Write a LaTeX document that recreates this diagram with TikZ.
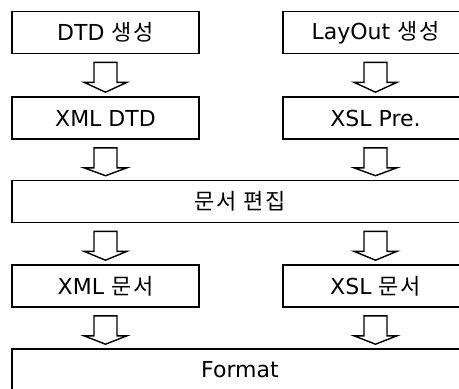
\documentclass[tikz,border=0pt]{standalone}
\usepackage{fontspec}
\setmainfont{DejaVu Sans}
\newfontfamily\kr[LetterSpace=8]{Noto Sans CJK KR}
\usetikzlibrary{calc}
\tikzset{
  box/.style={draw, line width=1.6pt, rectangle, inner sep=0pt, font=\fontsize{22}{25}\selectfont},
  lbox/.style={box, minimum width=187pt, minimum height=42pt},
  rbox/.style={box, minimum width=185pt, minimum height=42pt},
  wbox/.style={box, minimum width=456pt, minimum height=42pt},
  blockarrow/.style={draw, line width=1.4pt, fill=white, line join=miter},
}
\newcommand\barrow[3]{%
  \path (#1.center |- #2.south) coordinate (bA) (#1.center |- #3.north) coordinate (bB);
  \draw[blockarrow] ($(bA)+(-11.5,8)$) -- ($(bA)+(11.5,8)$) -- ($(bA)+(11.5,28)$)
    -- ($(bA)+(21.5,28)$) -- ($(bB)+(0,-4)$) -- ($(bA)+(-21.5,28)$)
    -- ($(bA)+(-11.5,28)$) -- cycle;
}
\begin{document}
\begin{tikzpicture}[x=1pt,y=-1pt]
\useasboundingbox (0,0) rectangle (459,389);
\clip (0,0) rectangle (459,389);
\node[lbox] (dtd) at (105.5,32.5) {DTD {\kr 생성}};
\node[rbox] (lay) at (375.5,32.5) {LayOut {\kr 생성}};
\node[lbox] (xdtd) at (105.5,118) {XML DTD};
\node[rbox] (xsl) at (375.5,118) {XSL Pre.};
\node[wbox] (edit) at (240,201.5) {\kr 문서 편집};
\node[lbox] (xdoc) at (105.5,286) {XML {\kr 문서}};
\node[rbox] (sdoc) at (375.5,286) {XSL {\kr 문서}};
\node[wbox] (fmt) at (240,370) {Format};
\barrow{dtd}{dtd}{xdtd}
\barrow{lay}{lay}{xsl}
\barrow{xdtd}{xdtd}{edit}
\barrow{xsl}{xsl}{edit}
\barrow{xdoc}{edit}{xdoc}
\barrow{sdoc}{edit}{sdoc}
\barrow{xdoc}{xdoc}{fmt}
\barrow{sdoc}{sdoc}{fmt}
\end{tikzpicture}
\end{document}
